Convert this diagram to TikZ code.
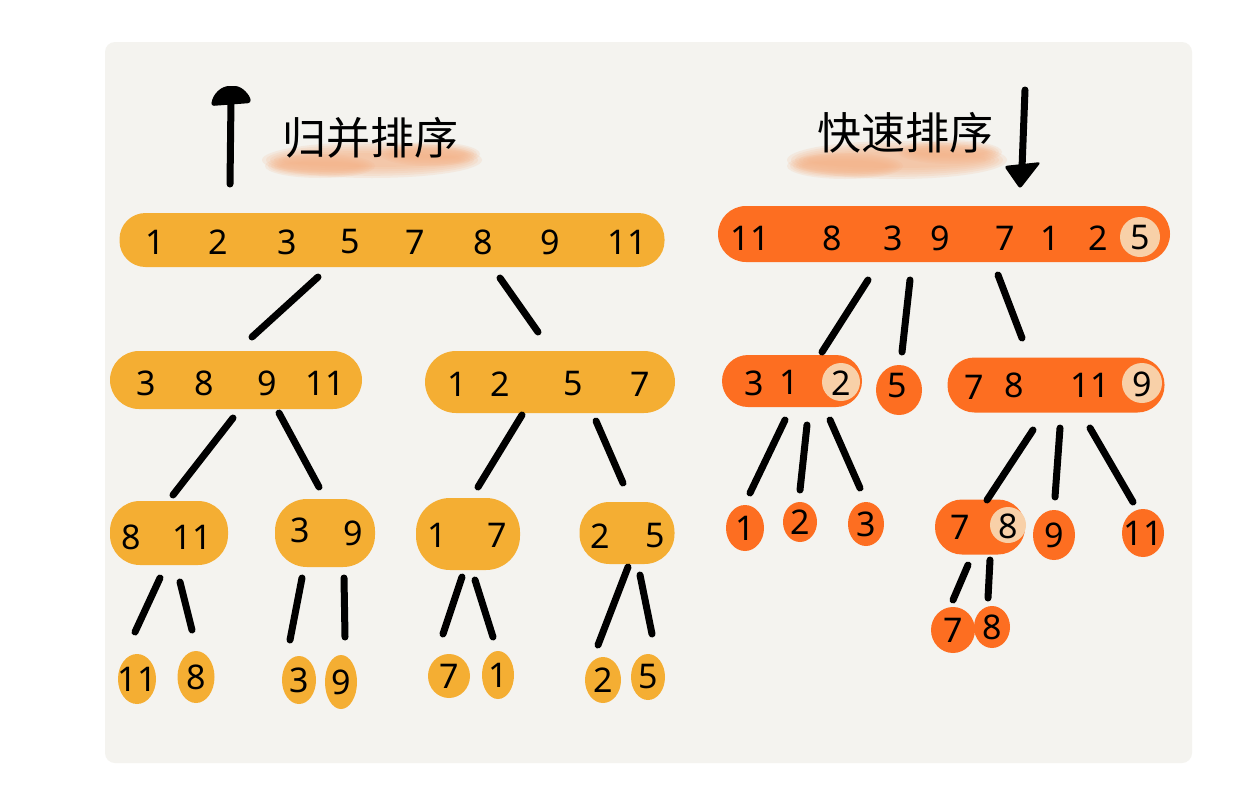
\documentclass[tikz,border=0pt]{standalone}
\usepackage{fontspec}
\setmainfont{Noto Sans}
\newfontfamily\cjk{Noto Sans CJK SC}
\usetikzlibrary{shapes.geometric}
\definecolor{bggray}{HTML}{F4F3EF}
\definecolor{myyellow}{HTML}{F4AE33}
\definecolor{myorange}{HTML}{FD6E21}
\definecolor{mypeach}{HTML}{F8D0A8}
\definecolor{mybrush}{HTML}{F3B286}
\tikzset{
  blob/.style={draw=none, inner sep=0pt, rounded corners=#1},
  ybar/.style={blob=26pt, fill=myyellow},
  obar/.style={blob=26pt, fill=myorange},
  yegg/.style={ellipse, draw=none, inner sep=0pt, fill=myyellow},
  oegg/.style={ellipse, draw=none, inner sep=0pt, fill=myorange},
  pivot/.style={circle, draw=none, inner sep=0pt, fill=mypeach, minimum size=#1},
  num/.style={inner sep=0pt, font=\fontsize{34}{34}\selectfont},
  link/.style={line width=7pt, line cap=round, black},
  title/.style={inner sep=0pt, font=\cjk\fontsize{44}{44}\selectfont},
  brush/.style={fill=mybrush, opacity=0.16, draw=none}
}
\begin{document}
\begin{tikzpicture}[x=1pt,y=-1pt]
\useasboundingbox (0,0) rectangle (1244,790);
\fill[white] (0,0) rectangle (1244,790);
\fill[bggray, rounded corners=10pt] (105,42) rectangle (1192,763);

% ---------- titles ----------
\foreach \k in {0,1,...,5} {
  \fill[brush] (372,160) ellipse [x radius={110-4*\k}, y radius={18-2.2*\k}];
  \fill[brush] (320,166) ellipse [x radius={55-3*\k}, y radius={12-1.5*\k}];
  \fill[brush] (430,154) ellipse [x radius={50-3*\k}, y radius={12-1.5*\k}];
  \fill[brush] (897,160) ellipse [x radius={110-4*\k}, y radius={19-2.2*\k}];
  \fill[brush] (845,166) ellipse [x radius={58-3*\k}, y radius={13-1.5*\k}];
  \fill[brush] (950,152) ellipse [x radius={52-3*\k}, y radius={12-1.5*\k}];
}
\node[title] (tleft) at (370,138) {归并排序};
\node[title] (tright) at (905,133) {快速排序};

% up arrow
\coordinate (upb) at (230,184);
\coordinate (upt) at (231,100);
\draw[link] (upb) -- (upt);
\fill[rounded corners=3pt] (211,106) .. controls (213,93) and (222,86) .. (232,86) .. controls (242,86) and (250,95) .. (251,103) -- cycle;
% down arrow
\coordinate (dnt) at (1025,90);
\coordinate (dnb) at (1022,168);
\draw[link] (dnt) -- (dnb);
\fill[rounded corners=3pt] (1004,166) -- (1041,162) -- (1020,189) -- cycle;

% ---------- merge sort (left) ----------
\node[ybar, minimum width=545pt, minimum height=54pt] (L0) at (392,240) {};
\foreach \x/\t/\n in {155/1/a,218/2/b,287/3/c,350/5/d,415/7/e,483/8/f,550/9/g,627/11/h}
  \node[num] (L0\n) at (\x,242) {\t};

\node[ybar, blob=29pt, minimum width=252pt, minimum height=58pt] (L1a) at (236,380) {};
\foreach \x/\t/\n in {146/3/a,204/8/b,267/9/c,325/11/d}
  \node[num] (L1a\n) at (\x,383) {\t};
\node[ybar, blob=31pt, minimum width=250pt, minimum height=62pt] (L1b) at (550,382) {};
\foreach \x/\t/\n in {457/1/a,500/2/b,573/5/c,640/7/d}
  \node[num] (L1b\n) at (\x,384) {\t};

\node[ybar, blob=30pt, minimum width=118pt, minimum height=64pt] (L2a) at (169,533) {};
\node[num] (L2a1) at (131,537) {8};
\node[num] (L2a2) at (192,537) {11};
\node[ybar, blob=32pt, minimum width=100pt, minimum height=68pt] (L2b) at (325,533) {};
\node[num] (L2b1) at (300,530) {3};
\node[num] (L2b2) at (353,533) {9};
\node[ybar, blob=34pt, minimum width=104pt, minimum height=72pt] (L2c) at (468,534) {};
\node[num] (L2c1) at (437,535) {1};
\node[num] (L2c2) at (497,535) {7};
\node[ybar, blob=30pt, minimum width=95pt, minimum height=62pt] (L2d) at (627,533) {};
\node[num] (L2d1) at (600,536) {2};
\node[num] (L2d2) at (655,536) {5};

\foreach \x/\y/\w/\h/\t/\n in {137/679/38/50/11/a,196/677/37/52/8/b,299/680/34/48/3/c,341/682/32/54/9/d,449/676/42/44/7/e,498/675/32/48/1/f,603/680/36/46/2/g,648/677/34/46/5/h}
{
  \node[yegg, minimum width=\w pt, minimum height=\h pt] (L3\n) at (\x,\y) {};
  \node[num] (L3\n t) at (\x,\y) {\t};
}

% left connectors
\foreach \a/\b/\c/\d/\n in {318/277/252/337/a,500/278/538/332/b,
  233/418/173/495/c,279/413/319/487/d,522/415/478/487/e,596/421/623/483/f,
  160/578/135/632/g,180/582/192/630/h,302/578/290/640/i,344/578/345/637/j,
  462/577/443/634/k,475/580/493/637/l,628/567/598/645/m,640/575/652/634/n}
{
  \coordinate (la\n) at (\a,\b);
  \coordinate (lb\n) at (\c,\d);
  \draw[link] (la\n) -- (lb\n);
}

% ---------- quick sort (right) ----------
\node[obar, blob=28pt, minimum width=452pt, minimum height=56pt] (R0) at (944,234) {};
\node[pivot=40pt] (R0p) at (1140,237) {};
\foreach \x/\t/\n in {750/11/a,832/8/b,893/3/c,940/9/d,1005/7/e,1050/1/f,1098/2/g,1140/5/h}
  \node[num] (R0\n) at (\x,238) {\t};

\node[obar, blob=26pt, minimum width=140pt, minimum height=52pt] (R1a) at (792,381) {};
\node[pivot=38pt] (R1ap) at (841,382) {};
\node[num] (R1a1) at (754,383) {3};
\node[num] (R1a2) at (789,382) {1};
\node[num] (R1a3) at (841,383) {2};
\node[oegg, minimum width=46pt, minimum height=50pt] (R1b) at (899,390) {};
\node[num] (R1b1) at (897,386) {5};
\node[obar, blob=27pt, minimum width=217pt, minimum height=55pt] (R1c) at (1056,385) {};
\node[pivot=40pt] (R1cp) at (1142,383) {};
\node[num] (R1c1) at (974,387) {7};
\node[num] (R1c2) at (1014,385) {8};
\node[num] (R1c3) at (1090,385) {11};
\node[num] (R1c4) at (1142,384) {9};

\foreach \x/\y/\w/\h/\t/\n in {745/528/38/46/1/a,800/522/34/40/2/b,866/524/36/44/3/c,1054/535/42/50/9/e,1143/533/42/48/11/f}
{
  \node[oegg, minimum width=\w pt, minimum height=\h pt] (R2\n) at (\x,\y) {};
  \node[num] (R2\n t) at (\x,\y) {\t};
}
\node[obar, blob=27pt, minimum width=90pt, minimum height=55pt] (R2d) at (980,527) {};
\node[pivot=36pt] (R2dp) at (1008,525) {};
\node[num] (R2d1) at (960,527) {7};
\node[num] (R2d2) at (1008,526) {8};

\node[oegg, minimum width=44pt, minimum height=46pt] (R3a) at (953,630) {};
\node[num] (R3at) at (953,630) {7};
\node[oegg, minimum width=36pt, minimum height=42pt] (R3b) at (992,627) {};
\node[num] (R3bt) at (992,627) {8};

% right connectors
\foreach \a/\b/\c/\d/\n in {868/280/822/352/a,910/280/902/352/b,998/275/1022/338/c,
  785/420/750/493/d,807/425/800/490/e,830/420/860/488/f,
  1033/430/987/500/g,1060/428/1055/497/h,1090/428/1133/502/i,
  968/565/953/600/j,990/560/988/598/k}
{
  \coordinate (ra\n) at (\a,\b);
  \coordinate (rb\n) at (\c,\d);
  \draw[link] (ra\n) -- (rb\n);
}
\end{tikzpicture}
\end{document}
